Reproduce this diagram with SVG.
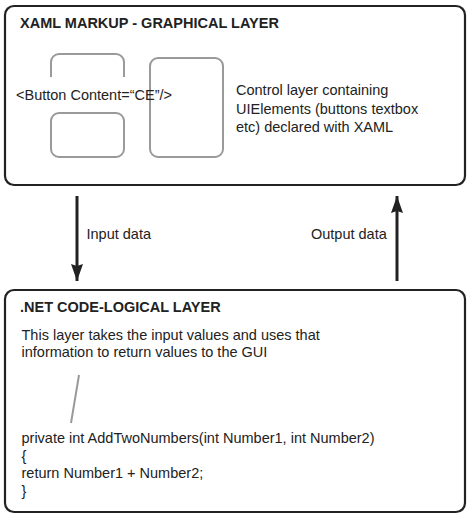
<svg xmlns="http://www.w3.org/2000/svg" width="467" height="514" viewBox="0 0 467 514">
  <style>
    .layer { fill: #fff; stroke: #222; stroke-width: 2.2; }
    .ui { fill: none; stroke: #9a9a9a; stroke-width: 2; }
    .title { font-family: "Liberation Sans", Arial, sans-serif; font-weight: bold; font-size: 14.5px; fill: #222; }
    .txt { font-family: "Liberation Sans", Arial, sans-serif; font-size: 14.5px; fill: #222; }
    .flow { stroke: #222; stroke-width: 3; fill: none; }
  </style>
  <defs>
    <marker id="head" viewBox="0 0 17 12" refX="17" refY="6" markerWidth="17" markerHeight="12" markerUnits="userSpaceOnUse" orient="auto">
      <path d="M0,0 L17,6 L0,12 L2,6 Z" fill="#222"/>
    </marker>
  </defs>

  <!-- top: graphical layer -->
  <g id="xaml-layer">
    <rect class="layer" x="5" y="6" width="460" height="179" rx="9"/>
    <text class="title" x="20" y="28">XAML MARKUP - GRAPHICAL LAYER</text>
    <path class="ui" d="M51,77 V62 a8,8 0 0 1 8,-8 H116 a8,8 0 0 1 8,8 V77"/>
    <rect class="ui" x="51" y="113" width="73" height="44" rx="8"/>
    <rect class="ui" x="150" y="58" width="73" height="99" rx="8"/>
    <text class="txt" x="16" y="100">&lt;Button Content=“CE”/&gt;</text>
    <text class="txt" x="236" y="95">Control layer containing</text>
    <text class="txt" x="236" y="113.5">UIElements (buttons textbox</text>
    <text class="txt" x="236" y="132">etc) declared with XAML</text>
  </g>

  <!-- connectors between layers -->
  <g id="connectors">
    <line class="flow" x1="77" y1="196" x2="77" y2="281" marker-end="url(#head)"/>
    <text class="txt" x="86.5" y="239">Input data</text>
    <line class="flow" x1="397" y1="281" x2="397" y2="196" marker-end="url(#head)"/>
    <text class="txt" x="311" y="239">Output data</text>
  </g>

  <!-- bottom: logical layer -->
  <g id="net-layer">
    <rect class="layer" x="5" y="290" width="460" height="222" rx="9"/>
    <text class="title" x="20" y="312">.NET CODE-LOGICAL LAYER</text>
    <text class="txt" x="21.5" y="340">This layer takes the input values and uses that</text>
    <text class="txt" x="21.5" y="357">information to return values to the GUI</text>
    <line class="ui" x1="79" y1="375" x2="71" y2="423"/>
    <text class="txt" x="21.5" y="443">private int AddTwoNumbers(int Number1, int Number2)</text>
    <text class="txt" x="21.5" y="460.5">{</text>
    <text class="txt" x="21.5" y="478">return Number1 + Number2;</text>
    <text class="txt" x="21.5" y="495.5">}</text>
  </g>
</svg>
